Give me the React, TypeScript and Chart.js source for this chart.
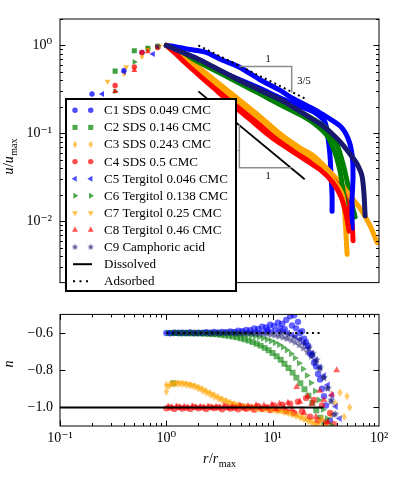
import React, { useEffect, useRef } from 'react';
import { Chart, registerables } from 'chart.js';
import { drawPoint } from 'chart.js/helpers';

Chart.register(...registerables);

const FONT = "'Liberation Serif', 'DejaVu Serif', serif";

// ---------- series meta ----------
const NAMES = [
  'C1 SDS 0.049 CMC',
  'C2 SDS 0.146 CMC',
  'C3 SDS 0.243 CMC',
  'C4 SDS 0.5 CMC',
  'C5 Tergitol 0.046 CMC',
  'C6 Tergitol 0.138 CMC',
  'C7 Tergitol 0.25 CMC',
  'C8 Tergitol 0.46 CMC',
  'C9 Camphoric acid',
];
const COLORS = ['#0000ff', '#008000', '#ffa500', '#ff0000', '#0000ff', '#008000', '#ffa500', '#ff0000', '#191970'];
const MARKERS = ['circle', 'rect', 'thinDiamond', 'circle', 'triangle', 'triangle', 'triangle', 'triangle', 'star'];
const ROTATIONS = [0, 0, 0, 0, -90, 90, 180, 0, 0];
const MSIZE = [3.2, 4.2, 4.2, 3.2, 4.0, 4.0, 4.0, 4.0, 4.0];

// ---------- top panel: u/u_max vs r/r_max ----------
const R_C1 = [0.2, 0.4, 0.59, 0.83, 1.0, 1.35, 2.07, 3.2, 4.93, 7.6, 11.7, 18.1, 25.1, 31.1, 33.2, 34.7, 35.4, 36.2, 36.2];
const U_C1 = [0.28, 0.52, 0.83, 0.97, 1.0, 0.855, 0.684, 0.508, 0.407, 0.325, 0.254, 0.203, 0.171, 0.133, 0.0875, 0.0533, 0.0325, 0.0198, 0.013];
const R_C2 = [0.33, 0.5, 0.67, 0.83, 1.0, 1.35, 2.07, 3.2, 4.93, 7.6, 11.7, 18.1, 25.1, 32.5, 40.4, 45.9, 51.2, 55.8, 59.6];
const U_C2 = [0.51, 0.87, 0.93, 0.98, 1.0, 0.855, 0.668, 0.508, 0.387, 0.302, 0.23, 0.175, 0.14, 0.112, 0.0735, 0.0448, 0.0253, 0.0154, 0.0112];
const R_C3 = [0.4, 0.59, 0.83, 1.0, 1.35, 2.07, 3.2, 4.93, 7.6, 11.7, 18.1, 24.0, 33.2, 43.1, 53.5, 66.4, 82.4, 95.9];
const U_C3 = [0.48, 0.75, 0.96, 1.0, 0.775, 0.547, 0.359, 0.236, 0.155, 0.099, 0.0683, 0.056, 0.0386, 0.0273, 0.0193, 0.014, 0.0089, 0.0057];
const R_C4 = [0.33, 0.5, 0.59, 0.83, 1.0, 1.21, 1.5, 2.07, 2.87, 4.24, 6.12, 8.85, 11.7, 18.1, 27.9, 37.0, 45.9, 51.2, 55.8, 57.0];
const U_C4 = [0.35, 0.57, 0.83, 0.95, 1.0, 0.877, 0.684, 0.484, 0.342, 0.224, 0.155, 0.107, 0.0832, 0.0574, 0.0416, 0.0301, 0.0213, 0.0147, 0.0094, 0.006];
const R_C5 = [0.25, 0.4, 0.75, 1.0, 1.21, 1.67, 2.36, 3.34, 4.93, 7.6, 11.7, 14.6, 22.5, 29.8, 43.1, 51.2, 55.8, 57.0, 55.8, 55.8];
const U_C5 = [0.28, 0.5, 0.8, 1.0, 0.968, 0.899, 0.834, 0.684, 0.561, 0.407, 0.31, 0.26, 0.198, 0.163, 0.121, 0.0875, 0.0574, 0.0325, 0.0175, 0.0083];
const R_C6 = [0.33, 0.5, 0.67, 1.0, 1.35, 2.07, 3.2, 4.93, 7.6, 11.7, 18.1, 25.1, 32.5, 38.6, 43.1, 45.9, 48.0];
const U_C6 = [0.3, 0.65, 0.92, 1.0, 0.834, 0.635, 0.484, 0.368, 0.281, 0.213, 0.163, 0.127, 0.0942, 0.06, 0.0367, 0.0224, 0.0154];
const R_C7 = [0.28, 0.42, 0.67, 0.86, 1.0, 1.35, 2.07, 3.2, 4.93, 7.6, 11.7, 18.1, 24.0, 33.2, 41.2, 45.9, 48.0, 50.1];
const U_C7 = [0.39, 0.57, 0.9, 0.98, 1.0, 0.755, 0.521, 0.342, 0.224, 0.147, 0.0942, 0.065, 0.052, 0.035, 0.0247, 0.0188, 0.0106, 0.0042];
const R_C8 = [0.33, 0.5, 0.67, 1.0, 1.21, 1.5, 2.07, 2.87, 4.24, 6.12, 8.85, 11.7, 18.1, 27.9, 37.0, 44.0, 49.0, 52.3];
const U_C8 = [0.3, 0.52, 0.85, 1.0, 0.815, 0.635, 0.449, 0.318, 0.208, 0.144, 0.099, 0.077, 0.0546, 0.0386, 0.0273, 0.0188, 0.012, 0.0077];
const R_C9 = [0.83, 1.0, 1.35, 2.07, 3.2, 4.93, 7.6, 11.7, 14.6, 22.5, 29.8, 38.6, 45.9, 54.6, 62.2, 69.3, 72.4, 74.0];
const U_C9 = [0.97, 1.0, 0.855, 0.684, 0.521, 0.397, 0.31, 0.242, 0.208, 0.151, 0.121, 0.0919, 0.0735, 0.056, 0.0448, 0.0325, 0.0198, 0.0115];

const TOP_R = [R_C1, R_C2, R_C3, R_C4, R_C5, R_C6, R_C7, R_C8, R_C9];
const TOP_U = [U_C1, U_C2, U_C3, U_C4, U_C5, U_C6, U_C7, U_C8, U_C9];

// reference power laws and slope triangles (top)
const DISSOLVED_R = [2, 20];
const DISSOLVED_U = [0.3, 0.03];
const ADSORBED_R = [2, 20];
const ADSORBED_U = [1, 0.25];
const TRI_UP_R = [4.86, 15.1, 15.1];
const TRI_UP_U = [0.575, 0.575, 0.29];
const TRI_LO_R = [4.86, 4.86, 15.1];
const TRI_LO_U = [0.126, 0.0406, 0.0406];
const NOTE_TEXT = ['1', '3/5', '1', '1'];
const NOTE_R = [9.06, 19.7, 9.06, 4.55];
const NOTE_U = [0.69, 0.39, 0.0325, 0.068];

const TOP_Y_TICKS = [0.01, 0.1, 1];
const TOP_Y_LABELS = ['10\u207B\u00B2', '10\u207B\u00B9', '10\u2070'];

// ---------- bottom panel: n vs r/r_max ----------
const NR_C1 = [1.0, 1.09, 1.19, 1.3, 1.41, 1.54, 1.68, 1.83, 2.0, 2.18, 2.37, 2.59, 2.82, 3.08, 3.35, 3.66, 3.99, 4.35, 4.74, 5.17, 5.63, 6.14, 6.7, 7.3, 7.96, 8.68, 9.46, 10.3, 11.2, 12.3, 13.4, 14.6, 15.9, 17.3, 18.9, 20.6, 22.5, 24.5, 26.7, 29.1, 31.7, 34.6,
  9.0, 11.8, 13.0, 15.2, 16.6, 18.1, 19.8, 21.6, 23.5, 25.6, 27.9, 30.4];
const NN_C1 = [-0.6, -0.601, -0.598, -0.6, -0.599, -0.6, -0.597, -0.6, -0.598, -0.6, -0.596, -0.599, -0.595, -0.598, -0.594, -0.596, -0.592, -0.594, -0.588, -0.59, -0.583, -0.585, -0.576, -0.578, -0.566, -0.57, -0.556, -0.562, -0.545, -0.55, -0.53, -0.51, -0.505, -0.54, -0.59, -0.65, -0.71, -0.76, -0.82, -0.9, -0.99, -1.07,
  -0.585, -0.575, -0.58, -0.56, -0.575, -0.6, -0.63, -0.67, -0.72, -0.78, -0.85, -0.94];
const NR_C2 = [1.17, 1.06, 1.16, 1.26, 1.38, 1.5, 1.64, 1.78, 1.94, 2.12, 2.31, 2.51, 2.74, 2.99, 3.26, 3.55, 3.87, 4.22, 4.6, 5.01, 5.46, 5.95, 6.49, 7.07, 7.71, 8.4, 9.16, 9.98, 10.9, 11.9, 12.9, 14.1, 15.4, 16.7, 18.2, 19.9, 21.7, 23.6, 25.7, 28.0, 30.5];
const NN_C2 = [-0.87, -0.6, -0.6, -0.6, -0.601, -0.6, -0.601, -0.601, -0.602, -0.602, -0.603, -0.604, -0.605, -0.607, -0.609, -0.612, -0.615, -0.619, -0.623, -0.628, -0.634, -0.641, -0.649, -0.658, -0.668, -0.68, -0.693, -0.708, -0.725, -0.744, -0.765, -0.788, -0.813, -0.84, -0.87, -0.902, -0.937, -0.975, -1.015, -1.055, -1.09];
const NR_C3 = [1.0, 1.0, 1.09, 1.19, 1.3, 1.41, 1.54, 1.68, 1.83, 2.0, 2.18, 2.37, 2.59, 2.82, 3.08, 3.35, 3.66, 3.99, 4.35, 4.74, 5.17, 5.63, 6.14, 6.7, 7.3, 7.96, 8.68, 9.46, 10.3, 11.2, 12.3, 13.4, 14.6, 15.9, 17.3, 18.9, 20.6, 22.5, 24.5, 26.7, 29.1, 31.7, 35.0, 39.0, 43.0, 47.0, 50.0, 53.0];
const NN_C3 = [-0.88, -0.915, -0.876, -0.873, -0.872, -0.874, -0.877, -0.881, -0.888, -0.898, -0.909, -0.92, -0.931, -0.942, -0.952, -0.962, -0.971, -0.979, -0.986, -0.992, -0.996, -0.999, -1.001, -1.003, -1.004, -1.006, -1.008, -1.01, -1.012, -1.015, -1.018, -1.022, -1.027, -1.033, -1.04, -1.048, -1.057, -1.067, -1.078, -1.088, -1.06, -1.09, -1.04, -0.98, -0.92, -1.05, -0.94, -1.0];
const NR_C4 = [1.0, 1.09, 1.19, 1.3, 1.41, 1.54, 1.68, 1.83, 2.0, 2.18, 2.37, 2.59, 2.82, 3.08, 3.35, 3.66, 3.99, 4.35, 4.74, 5.17, 5.63, 6.14, 6.7, 7.3, 7.96, 8.68, 9.46, 10.3, 11.2, 12.3, 13.4, 14.6, 15.9, 17.3, 18.9, 20.6, 22.5, 24.5, 26.7, 29.1, 31.7, 34.6, 37.7];
const NN_C4 = [-1.005, -1.0, -1.008, -0.998, -1.006, -1.002, -1.008, -0.997, -1.005, -1.0, -1.009, -0.998, -1.004, -1.0, -1.01, -0.996, -1.006, -1.002, -1.01, -0.995, -1.007, -1.0, -1.012, -0.993, -1.008, -1.0, -1.014, -0.99, -1.01, -0.985, -1.02, -0.98, -1.03, -0.97, -1.02, -0.95, -1.05, -0.96, -1.07, -0.99, -1.08, -1.03, -1.09];
const NR_C5 = [1.04, 1.13, 1.24, 1.35, 1.47, 1.6, 1.75, 1.9, 2.08, 2.27, 2.46, 2.69, 2.93, 3.2, 3.48, 3.81, 4.15, 4.52, 4.93, 5.38, 5.86, 6.39, 6.97, 7.59, 8.28, 9.03, 9.84, 10.7, 11.6, 12.8, 13.9, 15.2, 16.5, 18.0, 19.7, 21.4, 23.4, 25.5, 27.8, 30.3, 33.0, 36.0, 39.2, 42.7];
const NN_C5 = [-0.6, -0.6, -0.599, -0.6, -0.6, -0.599, -0.6, -0.601, -0.6, -0.599, -0.6, -0.6, -0.598, -0.6, -0.599, -0.6, -0.598, -0.6, -0.597, -0.599, -0.596, -0.598, -0.595, -0.597, -0.594, -0.592, -0.59, -0.588, -0.59, -0.595, -0.6, -0.61, -0.62, -0.635, -0.655, -0.68, -0.71, -0.745, -0.785, -0.83, -0.88, -0.935, -0.995, -1.06];
const NR_C6 = [1.22, 1.33, 1.45, 1.58, 1.72, 1.88, 2.05, 2.23, 2.43, 2.65, 2.89, 3.15, 3.43, 3.74, 4.08, 4.45, 4.85, 5.28, 5.76, 6.28, 6.84, 7.46, 8.13, 8.86, 9.66, 10.5, 11.5, 12.5, 13.6, 14.9, 16.2, 17.7, 19.3, 21.0, 22.9, 25.0, 27.2, 29.7, 32.3, 35.2];
const NN_C6 = [-0.6, -0.6, -0.601, -0.6, -0.6, -0.601, -0.6, -0.601, -0.6, -0.601, -0.601, -0.6, -0.601, -0.602, -0.602, -0.603, -0.605, -0.607, -0.61, -0.613, -0.617, -0.622, -0.628, -0.635, -0.643, -0.652, -0.663, -0.676, -0.692, -0.712, -0.735, -0.762, -0.793, -0.828, -0.868, -0.912, -0.96, -1.012, -1.06, -1.095];
const NR_C7 = [1.05, 1.14, 1.24, 1.35, 1.47, 1.61, 1.75, 1.91, 2.08, 2.27, 2.47, 2.7, 2.94, 3.21, 3.5, 3.81, 4.16, 4.53, 4.94, 5.39, 5.87, 6.4, 6.98, 7.61, 8.3, 9.05, 9.87, 10.8, 11.7, 12.8, 14.0, 15.2, 16.6, 18.1, 19.7, 21.5, 23.4, 25.5, 27.8, 30.3];
const NN_C7 = [-0.885, -0.87, -0.868, -0.868, -0.87, -0.874, -0.879, -0.886, -0.895, -0.905, -0.916, -0.927, -0.938, -0.949, -0.959, -0.968, -0.976, -0.983, -0.989, -0.994, -0.997, -1.0, -1.002, -1.004, -1.006, -1.009, -1.012, -1.016, -1.02, -1.025, -1.031, -1.038, -1.046, -1.055, -1.065, -1.075, -1.085, -1.095, -1.07, -1.1];
const NR_C8 = [1.04, 1.13, 1.24, 1.35, 1.47, 1.6, 1.75, 1.9, 2.08, 2.27, 2.46, 2.69, 2.93, 3.2, 3.48, 3.81, 4.15, 4.52, 4.93, 5.38, 5.86, 6.39, 6.97, 7.59, 8.28, 9.03, 9.84, 10.7, 11.6, 12.8, 13.9, 15.2, 16.8, 18.0, 19.7, 21.4, 23.4, 25.5, 27.8, 30.3, 33.0, 36.0, 40.0];
const NN_C8 = [-0.995, -1.0, -0.995, -1.002, -0.996, -1.0, -0.994, -1.002, -0.997, -1.0, -0.995, -1.003, -0.996, -1.0, -0.993, -1.004, -0.995, -1.0, -0.99, -1.006, -0.993, -1.0, -0.988, -1.005, -0.99, -1.0, -0.985, -1.008, -0.98, -1.0, -0.975, -1.01, -0.89, -0.97, -1.03, -0.94, -0.98, -1.05, -0.91, -0.96, -1.08, -0.93, -0.8];
const NR_C9 = [1.2, 1.31, 1.43, 1.56, 1.7, 1.86, 2.03, 2.21, 2.41, 2.63, 2.87, 3.13, 3.42, 3.73, 4.07, 4.44, 4.84, 5.28, 5.76, 6.28, 6.85, 7.48, 8.16, 8.9, 9.7, 10.6, 11.5, 12.6, 13.7, 15.0, 16.3, 17.8, 19.4, 21.2, 23.1, 25.2, 27.5, 30.0, 32.7, 35.6, 38.9,
  12.0, 14.0, 16.0, 18.0, 20.0, 22.0, 24.0, 26.0, 28.0, 30.5, 33.0, 35.5, 37.5];
const NN_C9 = [-0.6, -0.6, -0.6, -0.601, -0.6, -0.6, -0.601, -0.6, -0.6, -0.601, -0.6, -0.601, -0.601, -0.6, -0.601, -0.602, -0.601, -0.602, -0.602, -0.603, -0.603, -0.604, -0.605, -0.606, -0.609, -0.613, -0.618, -0.624, -0.631, -0.64, -0.651, -0.665, -0.682, -0.703, -0.728, -0.758, -0.795, -0.84, -0.895, -0.96, -1.035,
  -0.6, -0.61, -0.62, -0.635, -0.655, -0.68, -0.71, -0.745, -0.785, -0.84, -0.9, -0.97, -1.04];

const BOT_R = [NR_C1, NR_C2, NR_C3, NR_C4, NR_C5, NR_C6, NR_C7, NR_C8, NR_C9];
const BOT_N = [NN_C1, NN_C2, NN_C3, NN_C4, NN_C5, NN_C6, NN_C7, NN_C8, NN_C9];

const N_DISSOLVED_R = [0.1, 30];
const N_DISSOLVED = [-1, -1];
const N_ADSORBED_R = [1, 28];
const N_ADSORBED = [-0.6, -0.6];

const BOT_Y_TICKS = [-1.0, -0.8, -0.6];
const X_TICKS = [0.1, 1, 10, 100];
const X_LABELS = ['10\u207B\u00B9', '10\u2070', '10\u00B9', '10\u00B2'];

// ---------- helpers ----------
function alpha(hex: string, a: number) {
  const v = parseInt(hex.slice(1), 16);
  return `rgba(${(v >> 16) & 255},${(v >> 8) & 255},${v & 255},${a})`;
}
function pts(rs: number[], ys: number[]) {
  return rs.map((r, i) => ({ x: r, y: ys[i] }));
}
function logMinor(lo: number, hi: number) {
  const out: number[] = [];
  for (let d = -4; d <= 3; d++) {
    for (let k = 2; k <= 9; k++) {
      const v = k * Math.pow(10, d);
      if (v >= lo * 0.999 && v <= hi * 1.001) out.push(v);
    }
  }
  return out;
}

// custom marker sprites (thin diamond, filled star)
function sprite(shape: string, color: string, r: number) {
  const s = Math.ceil(r * 2 + 2);
  const c = document.createElement('canvas');
  c.width = s;
  c.height = s;
  const g = c.getContext('2d') as CanvasRenderingContext2D;
  g.fillStyle = color;
  g.beginPath();
  const cx = s / 2;
  const cy = s / 2;
  if (shape === 'thinDiamond') {
    g.moveTo(cx, cy - r);
    g.lineTo(cx + r * 0.62, cy);
    g.lineTo(cx, cy + r);
    g.lineTo(cx - r * 0.62, cy);
  } else {
    for (let k = 0; k < 10; k++) {
      const ang = -Math.PI / 2 + (k * Math.PI) / 5;
      const rr = k % 2 ? r * 0.45 : r;
      const px = cx + rr * Math.cos(ang);
      const py = cy + rr * Math.sin(ang);
      if (k === 0) g.moveTo(px, py);
      else g.lineTo(px, py);
    }
  }
  g.closePath();
  g.fill();
  return c;
}
function markerStyle(i: number, a: number, scale: number): any {
  const m = MARKERS[i];
  if (m === 'thinDiamond' || m === 'star') return sprite(m, alpha(COLORS[i], a), MSIZE[i] * scale);
  return m;
}

type Part = { t: string; it?: boolean; sub?: boolean };
function drawMath(ctx: CanvasRenderingContext2D, parts: Part[], x: number, y: number, angle: number, size: number) {
  ctx.save();
  ctx.translate(x, y);
  ctx.rotate(angle);
  ctx.fillStyle = '#000';
  ctx.textBaseline = 'alphabetic';
  ctx.textAlign = 'left';
  const fonts = parts.map((p) => `${p.it ? 'italic ' : ''}${p.sub ? size * 0.72 : size}px ${FONT}`);
  const widths = parts.map((p, i) => {
    ctx.font = fonts[i];
    return ctx.measureText(p.t).width;
  });
  const total = widths.reduce((a, b) => a + b, 0);
  let cx = -total / 2;
  parts.forEach((p, i) => {
    ctx.font = fonts[i];
    ctx.fillText(p.t, cx, p.sub ? size * 0.28 : 0);
    cx += widths[i] + (p.it ? 0.5 : 0);
  });
  ctx.restore();
}

function drawFrame(chart: any, cfg: { yMajor: number[]; yMinor: number[]; xMajor: number[]; xMinor: number[] }) {
  const { ctx, chartArea: a } = chart;
  const xs = chart.scales.x;
  const ys = chart.scales.y;
  ctx.save();
  ctx.strokeStyle = '#000';
  ctx.lineWidth = 1;
  ctx.beginPath();
  const yT = (vals: number[], len: number) =>
    vals.forEach((v) => {
      const p = Math.round(ys.getPixelForValue(v)) + 0.5;
      if (p < a.top || p > a.bottom) return;
      ctx.moveTo(a.left, p);
      ctx.lineTo(a.left + len, p);
      ctx.moveTo(a.right, p);
      ctx.lineTo(a.right - len, p);
    });
  const xT = (vals: number[], len: number) =>
    vals.forEach((v) => {
      const p = Math.round(xs.getPixelForValue(v)) + 0.5;
      if (p < a.left || p > a.right) return;
      ctx.moveTo(p, a.top);
      ctx.lineTo(p, a.top + len);
      ctx.moveTo(p, a.bottom);
      ctx.lineTo(p, a.bottom - len);
    });
  yT(cfg.yMajor, 5.5);
  yT(cfg.yMinor, 3);
  xT(cfg.xMajor, 5.5);
  xT(cfg.xMinor, 3);
  ctx.stroke();
  ctx.strokeRect(a.left, a.top, a.right - a.left, a.bottom - a.top);
  ctx.restore();
}

function drawLegend(ctx: CanvasRenderingContext2D) {
  const L = 66, T = 99, R = 236, B = 291;
  ctx.save();
  ctx.fillStyle = '#fff';
  ctx.fillRect(L, T, R - L, B - T);
  ctx.strokeStyle = '#000';
  ctx.lineWidth = 2;
  ctx.strokeRect(L, T, R - L, B - T);
  const step = 17.1;
  const y0 = 110.3;
  ctx.font = `13px ${FONT}`;
  ctx.textBaseline = 'middle';
  ctx.textAlign = 'left';
  NAMES.forEach((name, i) => {
    const y = y0 + i * step;
    const col = alpha(COLORS[i], 0.7);
    ctx.fillStyle = col;
    ctx.strokeStyle = col;
    const st = markerStyle(i, 0.7, 0.85);
    [75, 90.7].forEach((x) =>
      drawPoint(ctx, { pointStyle: st, rotation: ROTATIONS[i], radius: MSIZE[i] * 0.85, borderWidth: 0 } as any, x, y)
    );
    ctx.fillStyle = '#000';
    ctx.fillText(name, 104, y + 0.5);
  });
  const yD = y0 + 9 * step;
  const yA = y0 + 10 * step;
  ctx.strokeStyle = '#000';
  ctx.lineWidth = 2;
  ctx.beginPath();
  ctx.moveTo(73, yD);
  ctx.lineTo(92, yD);
  ctx.stroke();
  ctx.setLineDash([2, 4.5]);
  ctx.beginPath();
  ctx.moveTo(73, yA);
  ctx.lineTo(92, yA);
  ctx.stroke();
  ctx.setLineDash([]);
  ctx.fillStyle = '#000';
  ctx.fillText('Dissolved', 104, yD + 0.5);
  ctx.fillText('Adsorbed', 104, yA + 0.5);
  ctx.restore();
}

const tickFont = { family: FONT, size: 14 };

function topConfig(): any {
  const datasets: any[] = [];
  TOP_R.forEach((rs, i) => {
    const all = pts(rs, TOP_U[i]);
    const col = alpha(COLORS[i], 0.75);
    datasets.push({
      label: NAMES[i],
      data: all.filter((p) => p.x < 1),
      showLine: false,
      pointStyle: markerStyle(i, 0.75, 0.85),
      rotation: ROTATIONS[i],
      pointRadius: MSIZE[i] * 0.85,
      pointBackgroundColor: col,
      pointBorderColor: col,
      pointBorderWidth: 0,
      order: 100 - i,
    });
    datasets.push({
      label: NAMES[i] + ' band',
      data: all.filter((p) => p.x >= 1),
      showLine: true,
      borderColor: COLORS[i],
      borderWidth: 5,
      borderCapStyle: 'round',
      borderJoinStyle: 'round',
      tension: 0.25,
      pointRadius: 0,
      order: 100 - i,
    });
  });
  const guide = (rs: number[], us: number[], color: string, width: number, dash: number[]) => ({
    data: pts(rs, us),
    showLine: true,
    borderColor: color,
    borderWidth: width,
    borderDash: dash,
    pointRadius: 0,
    order: 0,
  });
  datasets.push(guide(TRI_UP_R, TRI_UP_U, '#8c8c8c', 1.5, []));
  datasets.push(guide(TRI_LO_R, TRI_LO_U, '#8c8c8c', 1.5, []));
  datasets.push(guide(DISSOLVED_R, DISSOLVED_U, '#000', 1.8, []));
  datasets.push(guide(ADSORBED_R, ADSORBED_U, '#000', 2, [2, 3.3]));

  return {
    type: 'scatter',
    data: { datasets },
    options: {
      animation: false,
      responsive: false,
      devicePixelRatio: 1,
      layout: { padding: { top: 19, right: 20, bottom: 2, left: 0 } },
      plugins: { legend: { display: false }, tooltip: { enabled: false } },
      scales: {
        x: { type: 'logarithmic', min: 0.1, max: 100, display: false },
        y: {
          type: 'logarithmic',
          min: 0.002,
          max: 2,
          grid: { display: false, drawTicks: false },
          border: { display: false },
          afterBuildTicks: (s: any) => {
            s.ticks = TOP_Y_TICKS.map((v) => ({ value: v }));
          },
          afterFit: (s: any) => {
            s.width = 60;
          },
          ticks: {
            autoSkip: false,
            padding: 8,
            color: '#000',
            font: tickFont,
            callback: (v: number) => {
              const k = TOP_Y_TICKS.findIndex((t) => Math.abs(t - v) < t * 1e-6);
              return k >= 0 ? TOP_Y_LABELS[k] : '';
            },
          },
        },
      },
    },
    plugins: [
      {
        id: 'topDecor',
        afterDatasetsDraw(chart: any) {
          const { ctx } = chart;
          drawFrame(chart, { yMajor: TOP_Y_TICKS, yMinor: logMinor(0.002, 2), xMajor: [], xMinor: [] });
          ctx.save();
          ctx.fillStyle = '#000';
          ctx.font = `10.5px ${FONT}`;
          ctx.textAlign = 'center';
          ctx.textBaseline = 'middle';
          NOTE_TEXT.forEach((t, i) => {
            ctx.fillText(t, chart.scales.x.getPixelForValue(NOTE_R[i]), chart.scales.y.getPixelForValue(NOTE_U[i]));
          });
          ctx.restore();
          drawLegend(ctx);
          drawMath(ctx, [{ t: 'u', it: true }, { t: '/' }, { t: 'u', it: true }, { t: 'max', sub: true }], 13, 157, -Math.PI / 2, 14);
        },
      },
    ],
  };
}

function botConfig(): any {
  const datasets: any[] = [];
  BOT_R.forEach((rs, i) => {
    const col = alpha(COLORS[i], 0.6);
    datasets.push({
      label: NAMES[i],
      data: pts(rs, BOT_N[i]),
      showLine: false,
      pointStyle: markerStyle(i, 0.6, 1),
      rotation: ROTATIONS[i],
      pointRadius: MSIZE[i],
      pointBackgroundColor: col,
      pointBorderColor: col,
      pointBorderWidth: 0,
      order: 100 - i,
    });
  });
  datasets.push({
    data: pts(N_DISSOLVED_R, N_DISSOLVED),
    showLine: true,
    borderColor: '#000',
    borderWidth: 2,
    pointRadius: 0,
    order: 0,
  });
  datasets.push({
    data: pts(N_ADSORBED_R, N_ADSORBED),
    showLine: true,
    borderColor: '#000',
    borderWidth: 2,
    borderDash: [2, 3.6],
    pointRadius: 0,
    order: 0,
  });
  return {
    type: 'scatter',
    data: { datasets },
    options: {
      animation: false,
      responsive: false,
      devicePixelRatio: 1,
      layout: { padding: { top: 3, right: 20, bottom: 0, left: 0 } },
      plugins: { legend: { display: false }, tooltip: { enabled: false } },
      scales: {
        x: {
          type: 'logarithmic',
          min: 0.1,
          max: 100,
          grid: { display: false, drawTicks: false },
          border: { display: false },
          afterBuildTicks: (s: any) => {
            s.ticks = X_TICKS.map((v) => ({ value: v }));
          },
          afterFit: (s: any) => {
            s.height = 54;
          },
          ticks: {
            autoSkip: false,
            maxRotation: 0,
            minRotation: 0,
            padding: 4,
            color: '#000',
            font: tickFont,
            callback: (v: number) => {
              const k = X_TICKS.findIndex((t) => Math.abs(t - v) < t * 1e-6);
              return k >= 0 ? X_LABELS[k] : '';
            },
          },
        },
        y: {
          type: 'linear',
          min: -1.1,
          max: -0.5,
          grid: { display: false, drawTicks: false },
          border: { display: false },
          afterBuildTicks: (s: any) => {
            s.ticks = BOT_Y_TICKS.map((v) => ({ value: v }));
          },
          afterFit: (s: any) => {
            s.width = 60;
          },
          ticks: {
            autoSkip: false,
            padding: 7,
            color: '#000',
            font: tickFont,
            callback: (v: number) => (v < 0 ? '\u2212' : '') + Math.abs(v).toFixed(1),
          },
        },
      },
    },
    plugins: [
      {
        id: 'botDecor',
        afterDatasetsDraw(chart: any) {
          const { ctx } = chart;
          drawFrame(chart, { yMajor: BOT_Y_TICKS, yMinor: [], xMajor: X_TICKS, xMinor: logMinor(0.1, 100) });
          drawMath(ctx, [{ t: 'n', it: true }], 13, 65, -Math.PI / 2, 14);
          drawMath(ctx, [{ t: 'r', it: true }, { t: '/' }, { t: 'r', it: true }, { t: 'max', sub: true }], 219, 164, 0, 14);
        },
      },
    ],
  };
}

export default function App() {
  const topRef = useRef<HTMLCanvasElement>(null);
  const botRef = useRef<HTMLCanvasElement>(null);
  useEffect(() => {
    const c1 = new Chart(topRef.current as HTMLCanvasElement, topConfig());
    const c2 = new Chart(botRef.current as HTMLCanvasElement, botConfig());
    return () => {
      c1.destroy();
      c2.destroy();
    };
  }, []);
  return (
    <div style={{ position: 'fixed', left: 0, top: 0, width: 399, height: 480, background: '#fff' }}>
      <canvas ref={topRef} width={399} height={299} style={{ position: 'absolute', left: 0, top: 0, width: 399, height: 299 }} />
      <canvas ref={botRef} width={399} height={181} style={{ position: 'absolute', left: 0, top: 299, width: 399, height: 181 }} />
    </div>
  );
}
